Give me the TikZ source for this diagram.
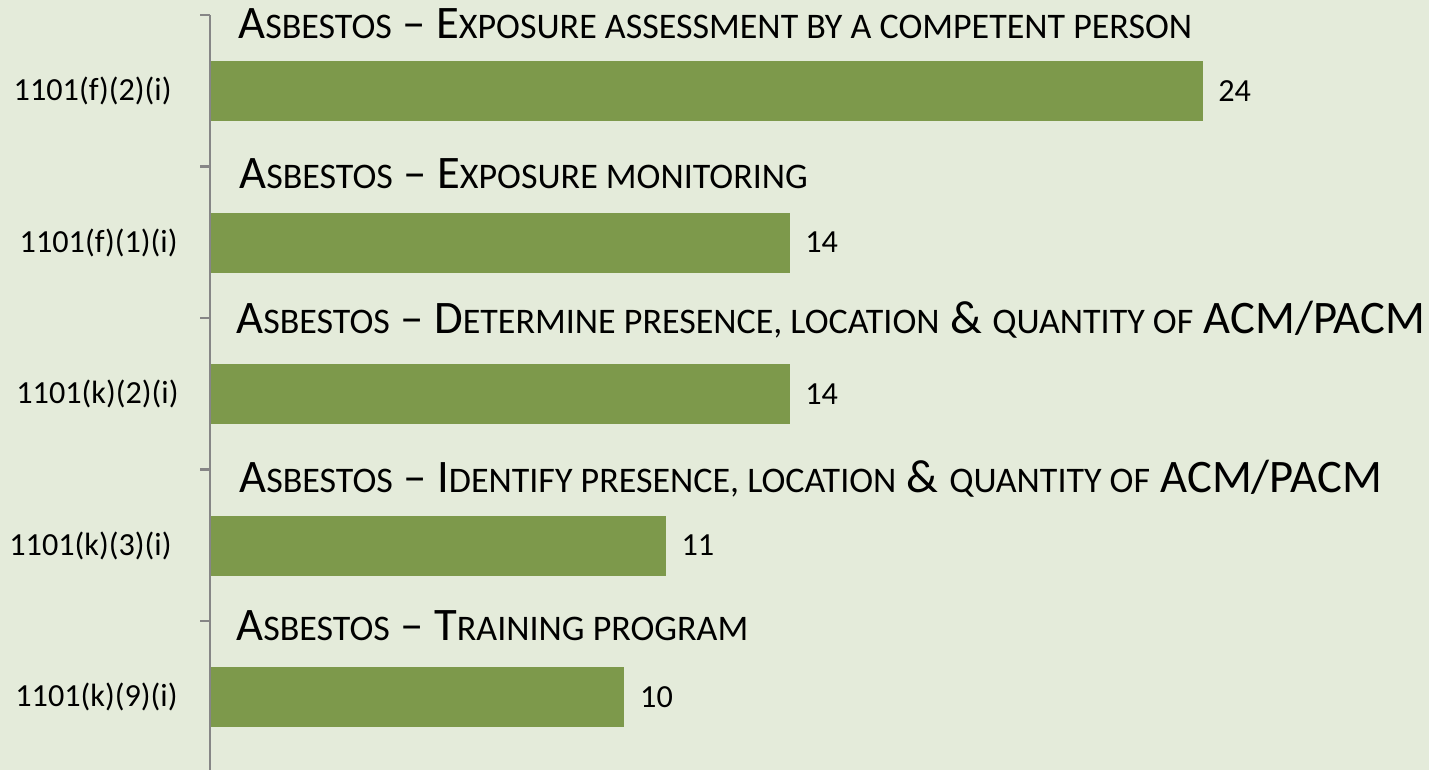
\documentclass[tikz,border=0pt]{standalone}
\usepackage{fontspec}
\setmainfont{Carlito}
\usetikzlibrary{positioning}
\definecolor{chartbg}{RGB}{228,235,218}
\definecolor{barfill}{RGB}{125,153,75}
\definecolor{axisgray}{RGB}{134,134,134}
\newcommand{\smc}[1]{{\fontsize{18}{18}\selectfont #1}}

\begin{document}
\begin{tikzpicture}[x=0.5pt,y=-0.5pt,
  barbox/.style={fill=barfill,draw=none,inner sep=0pt,anchor=west,minimum height=30pt},
  catlabel/.style={anchor=east,inner sep=0pt,font=\fontsize{16.1}{17}\selectfont},
  vallabel/.style={inner sep=0pt,font=\fontsize{16.1}{17}\selectfont},
  titlelabel/.style={anchor=base west,inner sep=0pt,font=\fontsize{23.3}{24}\selectfont}]
\fill[chartbg] (0,0) rectangle (1429,770);
% axis and ticks
\coordinate (axtop) at (210,15);
\coordinate (axbot) at (210,770);
\draw[axisgray,line width=1.1pt] (axtop) -- (axbot);
\foreach \y [count=\i] in {15,166.5,318,469.5,621}
  \draw[axisgray,line width=1.1pt] (200,\y) coordinate (tk\i) -- (axtop |- tk\i);
% bars
\foreach \v/\lab/\r [count=\i] in {24/1101(f)(2)(i)/172,14/1101(f)(1)(i)/178,14/1101(k)(2)(i)/179,11/1101(k)(3)(i)/172,10/1101(k)(9)(i)/178}{
  \pgfmathsetmacro{\yc}{91+(\i-1)*151.5}
  \node[barbox,minimum width=\v*20.65pt] (bar\i) at (211,\yc) {};
  \node[vallabel,right=7.5pt of bar\i] (val\i) {\v};
  \node[catlabel] (cat\i) at (\r,\yc) {\lab};
}
% titles
\foreach \x/\y/\txt [count=\i] in {
  238/38/{A\smc{SBESTOS} -- E\smc{XPOSURE ASSESSMENT BY A COMPETENT PERSON}},
  239/188/{A\smc{SBESTOS} -- E\smc{XPOSURE MONITORING}},
  236/333/{A\smc{SBESTOS} -- D\smc{ETERMINE PRESENCE, LOCATION} \& \smc{QUANTITY OF} ACM/PACM},
  239/492/{A\smc{SBESTOS} -- I\smc{DENTIFY PRESENCE, LOCATION} \& \smc{QUANTITY OF} ACM/PACM},
  236/640/{A\smc{SBESTOS} -- T\smc{RAINING PROGRAM}}}
  \node[titlelabel] (title\i) at (\x,\y) {\txt};
\end{tikzpicture}
\end{document}
